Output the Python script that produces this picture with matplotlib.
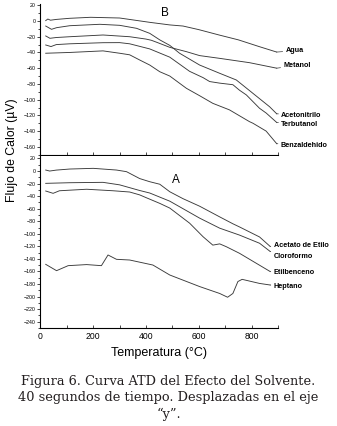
import matplotlib
matplotlib.use('Agg')
import matplotlib.pyplot as plt
from matplotlib.ticker import MultipleLocator

plt.rcParams['font.family'] = ['Liberation Sans', 'DejaVu Sans']

# --- panel B (top) ---
agua_t = [20, 28, 38, 60, 110, 190, 300, 414, 490, 540, 600, 679, 750, 830, 895]
agua_v = [0.5, 2.5, 1, 2, 3.4, 4.7, 3.8, -1.7, -5, -6.4, -11, -18, -24, -32.7, -39.5]

metanol_t = [20, 36, 60, 111, 237, 338, 400, 420, 440, 490, 553, 603, 679, 792, 895]
metanol_v = [-19, -22, -21, -20, -17.8, -20, -23, -24.5, -27, -33.5, -39, -44, -47.5, -53, -60]

aceto_t = [20, 42, 61, 111, 225, 300, 364, 414, 452, 490, 527, 603, 679, 742, 805, 868, 895]
aceto_v = [-6.4, -10.6, -8.5, -6, -4.2, -5.5, -9.3, -15.7, -24, -31, -41, -56, -66.5, -75, -92, -109, -118]

terbu_t = [20, 40, 60, 111, 237, 300, 338, 414, 490, 540, 565, 616, 641, 679, 729, 754, 780, 830, 855, 895]
terbu_v = [-30.5, -32.5, -30, -29, -27.6, -27.5, -29, -35.5, -46, -58, -64, -72, -77, -79, -81, -88, -94, -111, -117, -129]

benz_t = [20, 111, 237, 300, 338, 376, 414, 452, 490, 553, 603, 653, 716, 792, 805, 855, 895]
benz_v = [-41, -40, -38, -41, -43, -49.6, -56, -64.5, -70, -85.6, -95, -104.7, -113, -128, -130, -140, -156]

# --- panel A (bottom) ---
acetato_t = [20, 35, 60, 111, 200, 288, 326, 376, 414, 452, 490, 540, 603, 679, 729, 754, 792, 830, 870]
acetato_v = [1.6, 0, 1.5, 3.2, 4.3, 1.6, -1, -12, -17, -21, -33, -44, -56, -73, -84, -89, -97, -105, -120]

cloro_t = [20, 111, 237, 300, 376, 414, 490, 603, 679, 754, 830, 870]
cloro_v = [-19.6, -18.6, -18, -22, -31, -35, -48, -75, -91, -102, -115, -128]

etil_t = [20, 48, 72, 175, 275, 338, 376, 401, 452, 490, 565, 616, 653, 679, 704, 754, 830, 870]
etil_v = [-31.8, -35.5, -31.4, -29, -31.4, -33.4, -38, -42.5, -51.5, -59, -83, -104.6, -118, -116, -120.5, -131, -150, -160]

hept_t = [20, 61, 105, 175, 231, 256, 288, 338, 426, 490, 603, 679, 709, 729, 748, 764, 830, 870]
hept_v = [-148.6, -158.7, -150.7, -149, -150.7, -133.7, -140.6, -141.7, -149.7, -165.6, -184, -195, -201, -195, -176, -172.5, -179, -181.5]

top_curves = [
    (agua_t, agua_v, 'Agua', (928, -37.8)),
    (metanol_t, metanol_v, 'Metanol', (920, -56.4)),
    (aceto_t, aceto_v, 'Acetonitrilo', (912, -119.6)),
    (terbu_t, terbu_v, 'Terbutanol', (912, -131.4)),
    (benz_t, benz_v, 'Benzaldehido', (910, -158)),
]
bot_curves = [
    (acetato_t, acetato_v, 'Acetato de Etilo', (883, -119)),
    (cloro_t, cloro_v, 'Cloroformo', (883, -136.5)),
    (etil_t, etil_v, 'Etilbenceno', (883, -161)),
    (hept_t, hept_v, 'Heptano', (883, -184)),
]

fig = plt.figure(figsize=(3.37, 4.26), dpi=100)
ax1 = fig.add_axes([0.120, 0.635, 0.705, 0.3556])
ax2 = fig.add_axes([0.120, 0.2293, 0.705, 0.4056])

line_c = '#3a3a3a'


def draw(ax, curves):
    for t, v, name, pos in curves:
        ax.plot(t, v, color=line_c, lw=0.65)
        ax.annotate(name, xy=(t[-1], v[-1]), xytext=pos, textcoords='data',
                    fontsize=5.2, fontweight='bold', ha='left', va='center',
                    annotation_clip=False,
                    arrowprops=dict(arrowstyle='-', lw=0.5, color=line_c,
                                    shrinkA=0, shrinkB=0))


draw(ax1, top_curves)
draw(ax2, bot_curves)

ax1.set_xlim(0, 900)
ax1.set_ylim(-171, 21.6)
ax2.set_xlim(0, 900)
ax2.set_ylim(-250.5, 24.7)

for ax in (ax1, ax2):
    ax.spines['right'].set_visible(False)
    ax.spines['left'].set_linewidth(0.8)
    ax.spines['bottom'].set_linewidth(0.8)
    ax.xaxis.set_major_locator(MultipleLocator(200))
    ax.xaxis.set_minor_locator(MultipleLocator(100))
    ax.yaxis.set_major_locator(MultipleLocator(20))
    ax.yaxis.set_minor_locator(MultipleLocator(10))
    ax.tick_params(axis='y', which='major', direction='out', length=2.5, width=0.5,
                   labelsize=3.8, pad=1)
    ax.tick_params(axis='y', which='minor', direction='out', length=1.5, width=0.5)
    ax.tick_params(axis='x', which='both', direction='in', length=2.5, width=0.5)

ax1.spines['top'].set_visible(False)
ax2.spines['top'].set_visible(False)
ax1.tick_params(axis='x', labelbottom=False)
ax2.tick_params(axis='x', labelsize=6.2, pad=3)

ax1.text(471, 10, 'B', fontsize=8.5, ha='center', va='center')
ax2.text(515, -14, 'A', fontsize=8.5, ha='center', va='center')

ax2.set_xlabel('Temperatura (°C)', fontsize=9, labelpad=4)
fig.text(0.035, 0.648, 'Flujo de Calor (µV)', rotation=90, fontsize=8.8,
         ha='center', va='center')

caption = ('Figura 6. Curva ATD del Efecto del Solvente.\n'
           '40 segundos de tiempo. Desplazadas en el eje\n'
           '\u201cy\u201d.')
fig.text(0.5, 0.066, caption, family='DejaVu Serif', fontsize=9.3,
         ha='center', va='center', color='#231f20', linespacing=1.3)

fig.savefig('out.png', dpi=100)
